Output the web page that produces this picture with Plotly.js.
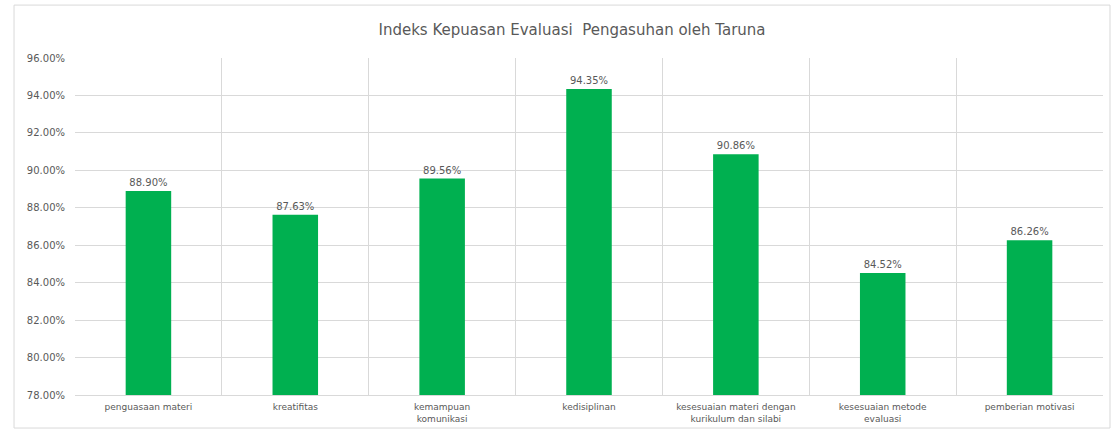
<!DOCTYPE html>
<html>
<head>
<meta charset="utf-8">
<script src="https://cdn.plot.ly/plotly-3.0.1.min.js"></script>
<style>
  html, body { margin: 0; padding: 0; background: #ffffff; }
  #chart { width: 1115px; height: 430px; }
</style>
</head>
<body>
<div id="chart"></div>
<script>
const categories = [
  "penguasaan materi",
  "kreatifitas",
  "kemampuan<br>komunikasi",
  "kedisiplinan",
  "kesesuaian materi dengan<br>kurikulum dan silabi",
  "kesesuaian metode<br>evaluasi",
  "pemberian motivasi"
];
const values = [88.90, 87.63, 89.56, 94.35, 90.86, 84.52, 86.26];
const valueLabels = ["88.90%", "87.63%", "89.56%", "94.35%", "90.86%", "84.52%", "86.26%"];
const yTicks = [78, 80, 82, 84, 86, 88, 90, 92, 94, 96];
const yTickLabels = ["78.00%", "80.00%", "82.00%", "84.00%", "86.00%", "88.00%", "90.00%", "92.00%", "94.00%", "96.00%"];

const FONT = "DejaVu Sans, Verdana, sans-serif";

const trace = {
  type: "bar",
  x: categories,
  y: values,
  text: valueLabels,
  textposition: "outside",
  cliponaxis: false,
  textfont: { family: FONT, size: 10, color: "#595959" },
  marker: { color: "#00b050" },
  hoverinfo: "x+y"
};

const layout = {
  width: 1115,
  height: 430,
  paper_bgcolor: "#ffffff",
  plot_bgcolor: "#ffffff",
  margin: { l: 75, r: 12, t: 58, b: 35 },
  title: {
    text: "Indeks Kepuasan Evaluasi  Pengasuhan oleh Taruna",
    font: { family: FONT, size: 15, color: "#595959" },
    x: 0.513, xanchor: "center", y: 0.93, yanchor: "middle"
  },
  bargap: 0.69,
  showlegend: false,
  xaxis: {
    type: "category",
    tickson: "boundaries",
    showgrid: true,
    gridcolor: "#d9d9d9",
    gridwidth: 1,
    showline: true,
    linecolor: "#d9d9d9",
    ticks: "",
    ticklabelstandoff: 3,
    tickfont: { family: FONT, size: 9, color: "#595959" },
    automargin: false
  },
  yaxis: {
    range: [78, 96],
    tickmode: "array",
    tickvals: yTicks,
    ticktext: yTickLabels,
    showgrid: true,
    gridcolor: "#d9d9d9",
    gridwidth: 1,
    zeroline: false,
    showline: false,
    ticks: "",
    ticklabelstandoff: 9,
    tickfont: { family: FONT, size: 10, color: "#595959" },
    automargin: false
  },
  shapes: [{
    type: "rect", xref: "paper", yref: "paper",
    x0: -0.0593, x1: 1.0068, y0: -0.098, y1: 1.157,
    line: { color: "#d9d9d9", width: 1 }, fillcolor: "rgba(0,0,0,0)"
  }]
};

Plotly.newPlot("chart", [trace], layout, { displayModeBar: false, staticPlot: true });
</script>
</body>
</html>
